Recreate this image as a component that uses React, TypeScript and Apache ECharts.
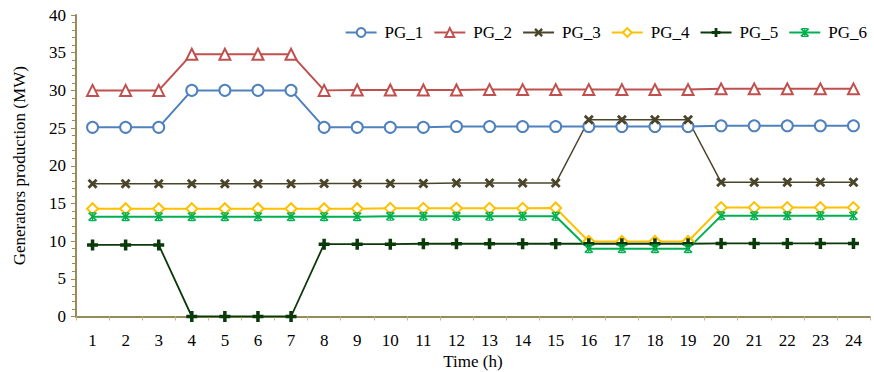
import React, { useEffect, useRef } from "react";
import * as echarts from "echarts";

const hours = ["1","2","3","4","5","6","7","8","9","10","11","12","13","14","15","16","17","18","19","20","21","22","23","24"];

const pg1 = [25.1,25.1,25.1,30,30,30,30,25.1,25.1,25.1,25.1,25.2,25.2,25.2,25.2,25.2,25.2,25.2,25.2,25.3,25.3,25.3,25.3,25.3];
const pg2 = [30,30,30,34.8,34.8,34.8,34.8,30,30.05,30.05,30.05,30.05,30.1,30.1,30.1,30.1,30.1,30.1,30.1,30.2,30.2,30.2,30.2,30.2];
const pg3 = [17.6,17.6,17.6,17.6,17.6,17.6,17.6,17.65,17.65,17.65,17.65,17.7,17.7,17.7,17.7,26.1,26.1,26.1,26.1,17.8,17.8,17.8,17.8,17.8];
const pg4 = [14.3,14.3,14.3,14.3,14.3,14.3,14.3,14.3,14.3,14.35,14.35,14.35,14.35,14.35,14.4,9.95,9.95,9.95,9.95,14.45,14.45,14.45,14.45,14.45];
const pg5 = [9.5,9.5,9.5,0,0,0,0,9.6,9.6,9.6,9.65,9.65,9.65,9.65,9.65,9.65,9.65,9.65,9.65,9.7,9.7,9.7,9.7,9.7];
const pg6 = [13.25,13.25,13.25,13.25,13.25,13.25,13.25,13.25,13.25,13.3,13.3,13.3,13.3,13.3,13.3,9.0,9.0,9.0,9.0,13.35,13.35,13.35,13.35,13.35];

const yTicks = { min: 0, max: 40, interval: 5 };

const FONT = "Liberation Serif";

// marker glyphs
const crossPath = "path://M0,2 L2,0 L10,8 L8,10 Z M8,0 L10,2 L2,10 L0,8 Z";
const plusPath = "path://M3.4,0 H6.6 V3.4 H10 V6.6 H6.6 V10 H3.4 V6.6 H0 V3.4 H3.4 Z";
const starPath = "path://M0,1.3 L1.3,0 L10,8.7 L8.7,10 Z M8.7,0 L10,1.3 L1.3,10 L0,8.7 Z M4.3,0 L5.7,0 L5.7,10 L4.3,10 Z M2,0 L8,0 L8,1.2 L2,1.2 Z M2,8.8 L8,8.8 L8,10 L2,10 Z";

type Def = { name: string; data: number[]; color: string; symbol: string; size: number; width: number; hollow: boolean };

const defs: Def[] = [
  { name: "PG_1", data: pg1, color: "#4f81bd", symbol: "circle", size: 11, width: 2, hollow: true },
  { name: "PG_2", data: pg2, color: "#c0504d", symbol: "triangle", size: 11, width: 2, hollow: true },
  { name: "PG_3", data: pg3, color: "#4a452a", symbol: crossPath, size: 10, width: 1.5, hollow: false },
  { name: "PG_4", data: pg4, color: "#ffc000", symbol: "diamond", size: 11, width: 2, hollow: true },
  { name: "PG_5", data: pg5, color: "#0a3a0a", symbol: plusPath, size: 11, width: 1.8, hollow: false },
  { name: "PG_6", data: pg6, color: "#00b050", symbol: starPath, size: 9, width: 2, hollow: false },
];

export default function App() {
  const ref = useRef<HTMLDivElement>(null);

  useEffect(() => {
    if (!ref.current) return;
    const chart = echarts.init(ref.current, null, { renderer: "svg" });
    chart.setOption({
      animation: false,
      backgroundColor: "#ffffff",
      textStyle: { fontFamily: FONT },
      grid: { left: 76, right: 4, top: 15, bottom: 55.5, containLabel: false, outerBoundsMode: "none" },
      legend: {
        right: 2,
        top: 19,
        itemWidth: 31,
        itemHeight: 11,
        itemGap: 10,
        textStyle: { fontFamily: FONT, fontSize: 17, color: "#000", padding: [0, 0, 0, 3] },
        data: defs.map((d) => d.name),
      },
      xAxis: {
        type: "category",
        data: hours,
        boundaryGap: true,
        name: "Time (h)",
        nameLocation: "middle",
        nameGap: 33,
        nameTextStyle: { fontFamily: FONT, fontSize: 17, color: "#000" },
        axisLine: { lineStyle: { color: "#978c58", width: 2 } },
        axisTick: { show: true, length: 4, alignWithLabel: false, lineStyle: { color: "#c0b78a", width: 1 } },
        axisLabel: { fontFamily: FONT, fontSize: 17, color: "#000", margin: 15 },
        splitLine: { show: false },
      },
      yAxis: {
        type: "value",
        min: yTicks.min,
        max: yTicks.max,
        interval: yTicks.interval,
        name: "Generators production (MW)",
        nameLocation: "middle",
        nameGap: 48,
        nameTextStyle: { fontFamily: FONT, fontSize: 17, color: "#000" },
        axisLine: { show: true, lineStyle: { color: "#978c58", width: 2 } },
        axisTick: { show: true, length: 5, lineStyle: { color: "#978c58", width: 1 } },
        minorTick: { show: true, splitNumber: 5, length: 4, lineStyle: { color: "#978c58", width: 1 } },
        axisLabel: { fontFamily: FONT, fontSize: 17, color: "#000", margin: 10 },
        splitLine: { show: false },
      },
      series: defs.map((d) => ({
        name: d.name,
        type: "line",
        data: d.data,
        symbol: d.symbol,
        symbolSize: d.size,
        showAllSymbol: true,
        lineStyle: { color: d.color, width: d.width },
        itemStyle: d.hollow
          ? { color: "#ffffff", borderColor: d.color, borderWidth: 2 }
          : { color: d.color, borderWidth: 0 },
        emphasis: { disabled: true },
      })),
    });
    return () => chart.dispose();
  }, []);

  return <div ref={ref} style={{ width: 874, height: 372, position: "absolute", left: 0, top: 0 }} />;
}
